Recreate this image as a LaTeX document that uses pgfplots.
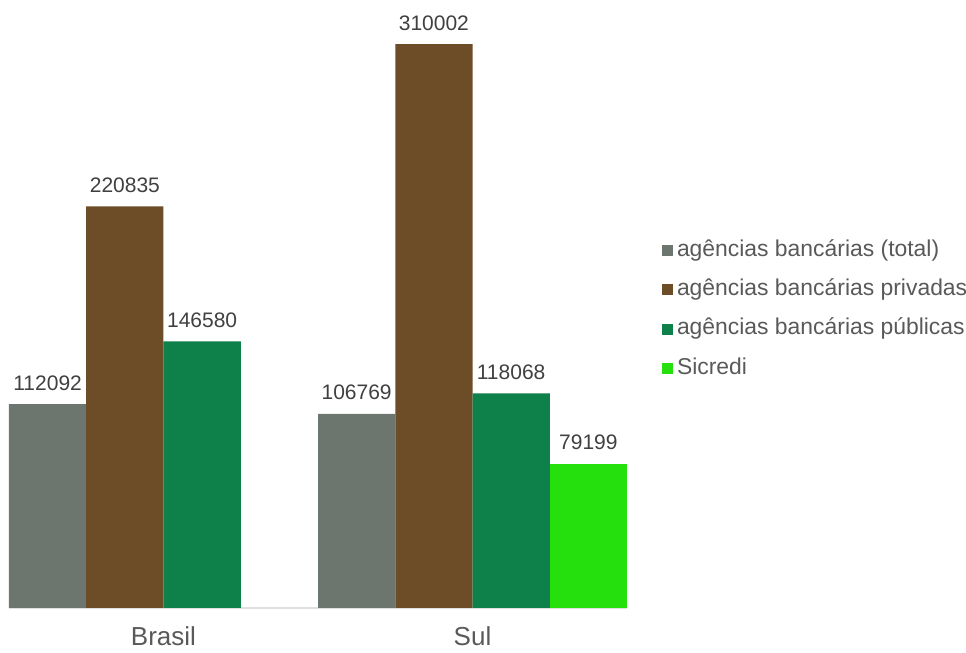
\documentclass[border=0pt]{standalone}
\usepackage{pgfplots}
\pgfplotsset{compat=1.18}
\usepackage{fontspec}
\setmainfont{Liberation Sans}
\definecolor{cTot}{RGB}{109,118,110}
\definecolor{cPriv}{RGB}{108,77,39}
\definecolor{cPub}{RGB}{14,128,74}
\definecolor{cSic}{RGB}{38,224,14}
\definecolor{txt}{RGB}{89,89,89}
\definecolor{num}{RGB}{64,64,64}
\begin{document}
\begin{tikzpicture}
\begin{axis}[
 at={(4.5pt,22.5pt)}, anchor=south west,
 scale only axis, width=309pt, height=291pt,
 xmin=-0.5, xmax=1.5, ymin=0, ymax=320000,
 ybar, bar width=0.25,
 axis y line=none, axis x line*=bottom,
 x axis line style={draw=black!12, line width=1pt, -},
 xtick={0,1}, xticklabels={Brasil,Sul}, major tick length=0pt,
 xticklabel style={font=\fontsize{13}{15}\selectfont, text=txt, yshift=-6pt},
 clip=false,
 point meta=explicit symbolic,
 nodes near coords,
 every node near coord/.append style={font=\fontsize{10.5}{12}\selectfont, text=num, anchor=base, inner sep=0pt, yshift=7pt},
 legend style={at={(1.056,0.513)}, anchor=west, draw=none, fill=none,
   font=\fontsize{11.45}{13}\selectfont, text=txt, cells={anchor=west},
   row sep=8.9pt, column sep=2pt, inner sep=0pt,
   nodes={inner sep=0pt, text height=8.25pt, text depth=2.5pt}},
 legend image code/.code={\fill[#1] (0pt,-2.75pt) rectangle (5.5pt,2.75pt);},
]
\addplot[fill=cTot, draw=none, bar shift=-0.375] coordinates {(0,112092)[112092] (1,106769)[106769]};
\addplot[fill=cPriv, draw=none, bar shift=-0.125] coordinates {(0,220835)[220835] (1,310002)[310002]};
\addplot[fill=cPub, draw=none, bar shift=0.125] coordinates {(0,146580)[146580] (1,118068)[118068]};
\addplot[fill=cSic, draw=none, bar shift=0.375] coordinates {(1,79199)[79199]};
\legend{agências bancárias (total), agências bancárias privadas, agências bancárias públicas, Sicredi}
\end{axis}
\pgfresetboundingbox
\path (0,0) rectangle (483pt,326.5pt);
\end{tikzpicture}
\end{document}
